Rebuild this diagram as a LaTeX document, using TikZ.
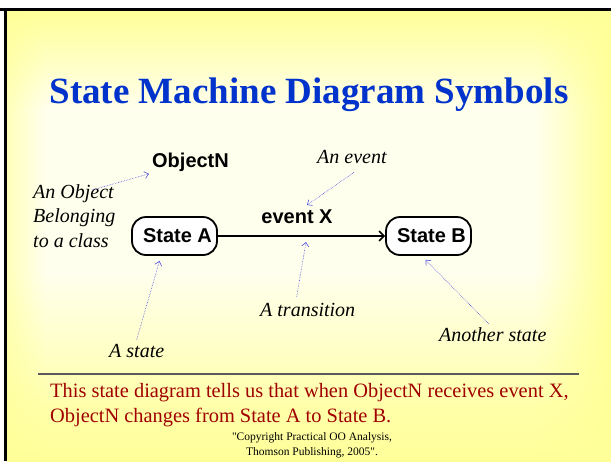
\documentclass[tikz,border=0pt]{standalone}
\usepackage{fontspec}
\setmainfont{Liberation Serif}
\setsansfont{Liberation Sans}
% plain family without the TeX quote mapping, for straight double quotes
\newfontfamily\plainserif{Liberation Serif}
\usetikzlibrary{arrows.meta,fadings,calc}

\definecolor{bgyel}{RGB}{255,255,153}
\definecolor{bgpale}{RGB}{255,255,238}
\colorlet{bgmid}{bgyel!80!bgpale}
\definecolor{titleblue}{RGB}{0,51,204}
\definecolor{notered}{RGB}{160,0,0}
\definecolor{ptrblue}{RGB}{80,80,225}
\definecolor{rulegray}{RGB}{90,90,90}

% slide background: yellow at top and bottom, pale in the middle
\pgfdeclareverticalshading{slidev}{100bp}{color(0bp)=(bgyel); color(25bp)=(bgyel);
  color(31bp)=(bgmid); color(46bp)=(bgpale); color(64bp)=(bgpale);
  color(75bp)=(bgyel); color(100bp)=(bgyel)}
\tikzfading[name=rightband, left color=transparent!100, right color=transparent!0]
\tikzfading[name=leftband, left color=transparent!0, right color=transparent!100]

\tikzset{
  statebox/.style={draw, line width=1.8pt, rounded corners=14pt, fill=white,
    minimum width=85pt, minimum height=38pt, inner sep=0pt,
    font=\sffamily\bfseries\fontsize{20}{24}\selectfont},
  boldlabel/.style={inner sep=0pt, font=\sffamily\bfseries\fontsize{20}{24}\selectfont},
  note/.style={inner sep=0pt, font=\itshape\fontsize{20}{24.5}\selectfont},
  callout/.style={ptrblue, densely dotted, line width=0.6pt,
    -{Straight Barb[length=4pt,width=7pt]}},
  transition/.style={line width=1.5pt, -{Straight Barb[length=5pt,width=10pt]}}
}

\begin{document}
\begin{tikzpicture}[x=1pt,y=-1pt]
  \useasboundingbox (0,0) rectangle (611,461);
  \fill[white] (0,0) rectangle (611,461);

  % background
  \shade[shading=slidev] (7,11) rectangle (611,461);
  \fill[bgyel, path fading=rightband] (535,11) rectangle (611,461);
  \fill[bgyel, opacity=0.6, path fading=leftband] (7,11) rectangle (45,461);

  % frame edges
  \draw[line width=3pt] (0,9.5) -- (611,9.5);
  \draw[line width=2.5pt] (5.7,8) -- (5.7,461);

  % title
  \node[anchor=base, inner sep=0pt, text=titleblue,
        font=\bfseries\fontsize{37}{40}\selectfont] (title) at (309,103)
        {State Machine Diagram Symbols};

  % states and transition
  \node[statebox] (stA) at (174.5,236) {\hspace*{6pt}State A};
  \node[statebox] (stB) at (428.5,236) {\hspace*{6pt}State B};
  \draw[transition] (stA.east) -- (stB.west);

  \node[boldlabel, anchor=base] (objN) at (190.5,167) {ObjectN};
  \node[boldlabel, anchor=base] (evX) at (297,223) {event X};

  % explanatory notes
  \node[note, align=left, anchor=north west] (objlbl) at (33,184)
        {An Object\\Belonging\\to a class};
  \node[note, anchor=base west] (evlbl) at (317,163) {An event};
  \node[note, anchor=base west] (translbl) at (260,316) {A transition};
  \node[note, anchor=base west] (astate) at (109,357) {A state};
  \node[note, anchor=base west] (another) at (439,341) {Another state};

  % dotted pointers from the notes
  \draw[callout] ($(objlbl.north west)+(59,6)$) -- ($(objN.west)+(-3,12)$);
  \draw[callout] ($(evlbl.south)+(2,9)$) -- ($(evX.north)+(10,-4)$);
  \draw[callout] ($(translbl.north)+(-11,-6)$) -- ($(stA.east)!0.527!(stB.west)+(0,6)$);
  \draw[callout] ($(astate.north)+(0,-4)$) -- ($(stA.south)+(-15,5)$);
  \draw[callout] ($(another.north)+(-4,-3)$) -- ($(stB.south)+(-3,4)$);

  % separator and summary
  \draw[rulegray, line width=1.3pt] (38,374) -- (579,374);
  \node[inner sep=0pt, align=left, anchor=north west, text=notered,
        font=\fontsize{20.4}{25}\selectfont] (summary) at (50,383.5)
        {This state diagram tells us that when ObjectN receives event X,\\
         ObjectN changes from State A to State B.};
  \node[inner sep=0pt, align=center, anchor=north,
        font=\plainserif\fontsize{11.5}{15}\selectfont]
        (copy) at (312,432)
        {"Copyright Practical OO Analysis,\\ Thomson Publishing, 2005".};
\end{tikzpicture}
\end{document}
